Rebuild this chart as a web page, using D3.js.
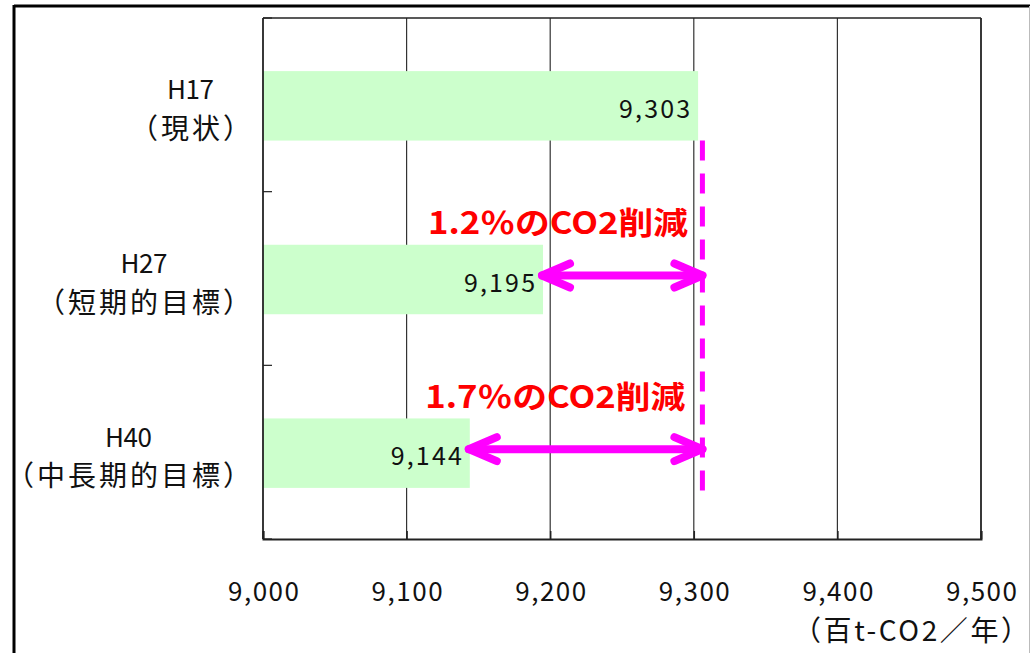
<!DOCTYPE html>
<html><head><meta charset="utf-8">
<script src="https://cdn.jsdelivr.net/npm/d3@7"></script>
<style>
html,body{margin:0;padding:0;background:#fff;overflow:hidden;}
text{font-family:"Noto Sans CJK JP","Noto Sans",sans-serif;}
</style></head>
<body>
<svg id="chart" width="1030" height="653"></svg>
<script>
const categories = ["H17", "H27", "H40"];
const subLabels = ["（現状）", "（短期的目標）", "（中長期的目標）"];
const values = [9303, 9195, 9144];
const valueLabels = ["9,303", "9,195", "9,144"];
const xTicks = [9000, 9100, 9200, 9300, 9400, 9500];
const xTickLabels = ["9,000", "9,100", "9,200", "9,300", "9,400", "9,500"];
const unitLabel = "（百t-CO2／年）";
const refValue = 9306;
const arrowCats = ["H27", "H40"];
const arrowFrom = [9195, 9144];
const annotationTexts = ["1.2％のCO2削減", "1.7％のCO2削減"];
const annotationEnd = [9296, 9294];

const svg = d3.select("#chart");
const M = {left: 263, right: 981, top: 18, bottom: 539};

// outer frame
svg.append("line").attr("x1", 14).attr("x2", 1030).attr("y1", 6).attr("y2", 6).attr("stroke", "#000").attr("stroke-width", 3);
svg.append("line").attr("x1", 14).attr("x2", 14).attr("y1", 5).attr("y2", 653).attr("stroke", "#000").attr("stroke-width", 3);
svg.append("line").attr("x1", 1029.5).attr("x2", 1029.5).attr("y1", 6).attr("y2", 653).attr("stroke", "#bbb").attr("stroke-width", 1);

const x = d3.scaleLinear().domain([9000, 9500]).range([M.left, M.right]);
const y = d3.scaleBand().domain(categories).range([M.top, M.bottom]).padding(0);
const barH = y.bandwidth() * 0.4;
const barY = c => y(c) + (y.bandwidth() - barH) / 2 + 1;
const mid = c => y(c) + y.bandwidth() / 2;

// gridlines
svg.append("g").selectAll("line").data(xTicks.slice(1, -1)).join("line")
  .attr("x1", d => x(d)).attr("x2", d => x(d))
  .attr("y1", M.top).attr("y2", M.bottom)
  .attr("stroke", "#333").attr("stroke-width", 1.2);

// bars
svg.append("g").selectAll("rect").data(values).join("rect")
  .attr("x", x(9000)).attr("y", (d, i) => barY(categories[i]))
  .attr("width", d => x(d) - x(9000)).attr("height", barH)
  .attr("fill", "#CCFFCC");

// plot border top/right
svg.append("line").attr("x1", M.left).attr("x2", M.right).attr("y1", M.top).attr("y2", M.top).attr("stroke", "#222").attr("stroke-width", 1.5);
svg.append("line").attr("x1", M.right).attr("x2", M.right).attr("y1", M.top).attr("y2", M.bottom).attr("stroke", "#222").attr("stroke-width", 1.8);

// x axis
const xAxis = d3.axisBottom(x).tickValues(xTicks).tickFormat((d, i) => xTickLabels[i]).tickSize(-8).tickPadding(44);
const gx = svg.append("g").attr("transform", `translate(0,${M.bottom})`).call(xAxis);
gx.select(".domain").attr("stroke", "#222").attr("stroke-width", 2);
gx.selectAll(".tick line").attr("stroke", "#222").attr("stroke-width", 1.5);
gx.selectAll(".tick text").attr("font-size", 26).attr("fill", "#111")
  .attr("font-family", '"Noto Sans CJK JP","Noto Sans",sans-serif')
  .attr("textLength", 71).attr("lengthAdjust", "spacing");

// y axis (ticks at band boundaries)
const yBounds = categories.map(c => y(c)).concat([M.bottom]);
svg.append("line").attr("x1", M.left).attr("x2", M.left).attr("y1", M.top).attr("y2", M.bottom).attr("stroke", "#222").attr("stroke-width", 1.8);
svg.append("g").selectAll("line").data(yBounds).join("line")
  .attr("x1", M.left).attr("x2", M.left + 9).attr("y1", d => d).attr("y2", d => d)
  .attr("stroke", "#222").attr("stroke-width", 1.2);

// category labels
const labelRight = 251;
const labelFs = 28;
categories.forEach((c, i) => {
  const nChars = Array.from(subLabels[i]).length;
  const w = nChars * labelFs + (nChars - 1) * 3;
  svg.append("text").attr("x", labelRight).attr("y", mid(c) + 22)
    .attr("text-anchor", "end").attr("dominant-baseline", "central")
    .attr("font-size", labelFs).attr("fill", "#111")
    .attr("textLength", w).attr("lengthAdjust", "spacing").text(subLabels[i]);
  svg.append("text").attr("x", labelRight - w / 2).attr("y", mid(c) - 17)
    .attr("text-anchor", "middle").attr("dominant-baseline", "central")
    .attr("font-size", 26).attr("fill", "#111")
    .attr("textLength", 47).attr("lengthAdjust", "spacing").text(c);
});

// value labels
svg.append("g").selectAll("text").data(values).join("text")
  .attr("x", d => x(d) - 8).attr("y", (d, i) => barY(categories[i]) + barH / 2 + 1)
  .attr("text-anchor", "end").attr("dominant-baseline", "central")
  .attr("font-size", 25).attr("fill", "#111")
  .attr("textLength", 71).attr("lengthAdjust", "spacing")
  .text((d, i) => valueLabels[i]);

// dashed reference line
svg.append("line")
  .attr("x1", x(refValue)).attr("x2", x(refValue))
  .attr("y1", barY("H17") + barH).attr("y2", mid("H40") + 42)
  .attr("stroke", "#FF00FF").attr("stroke-width", 5)
  .attr("stroke-dasharray", "20,13");

// arrows
const line = d3.line();
arrowCats.forEach((c, i) => {
  const yy = mid(c) - 3;
  const x1 = x(arrowFrom[i]) - 1, x2 = x(refValue);
  const g = svg.append("g").attr("fill", "none").attr("stroke", "#FF00FF")
    .attr("stroke-width", 8).attr("stroke-linecap", "round").attr("stroke-linejoin", "round");
  g.append("path").attr("d", line([[x1, yy], [x2, yy]]));
  g.append("path").attr("d", line([[x1 + 28, yy - 12], [x1, yy], [x1 + 28, yy + 12]]));
  g.append("path").attr("d", line([[x2 - 28, yy - 12], [x2, yy], [x2 - 28, yy + 12]]));
  // annotation text
  svg.append("text").attr("x", x(annotationEnd[i])).attr("y", mid(c) - 58)
    .attr("text-anchor", "end").attr("dominant-baseline", "central")
    .attr("font-size", 31).attr("font-weight", 700).attr("fill", "#FF0000")
    .attr("textLength", 260).attr("lengthAdjust", "spacingAndGlyphs")
    .text(annotationTexts[i]);
});

// unit label
svg.append("text").attr("x", 1029).attr("y", 629)
  .attr("text-anchor", "end").attr("dominant-baseline", "central")
  .attr("font-size", 28).attr("fill", "#111")
  .attr("textLength", 236).attr("lengthAdjust", "spacing")
  .text(unitLabel);
</script>
</body></html>
